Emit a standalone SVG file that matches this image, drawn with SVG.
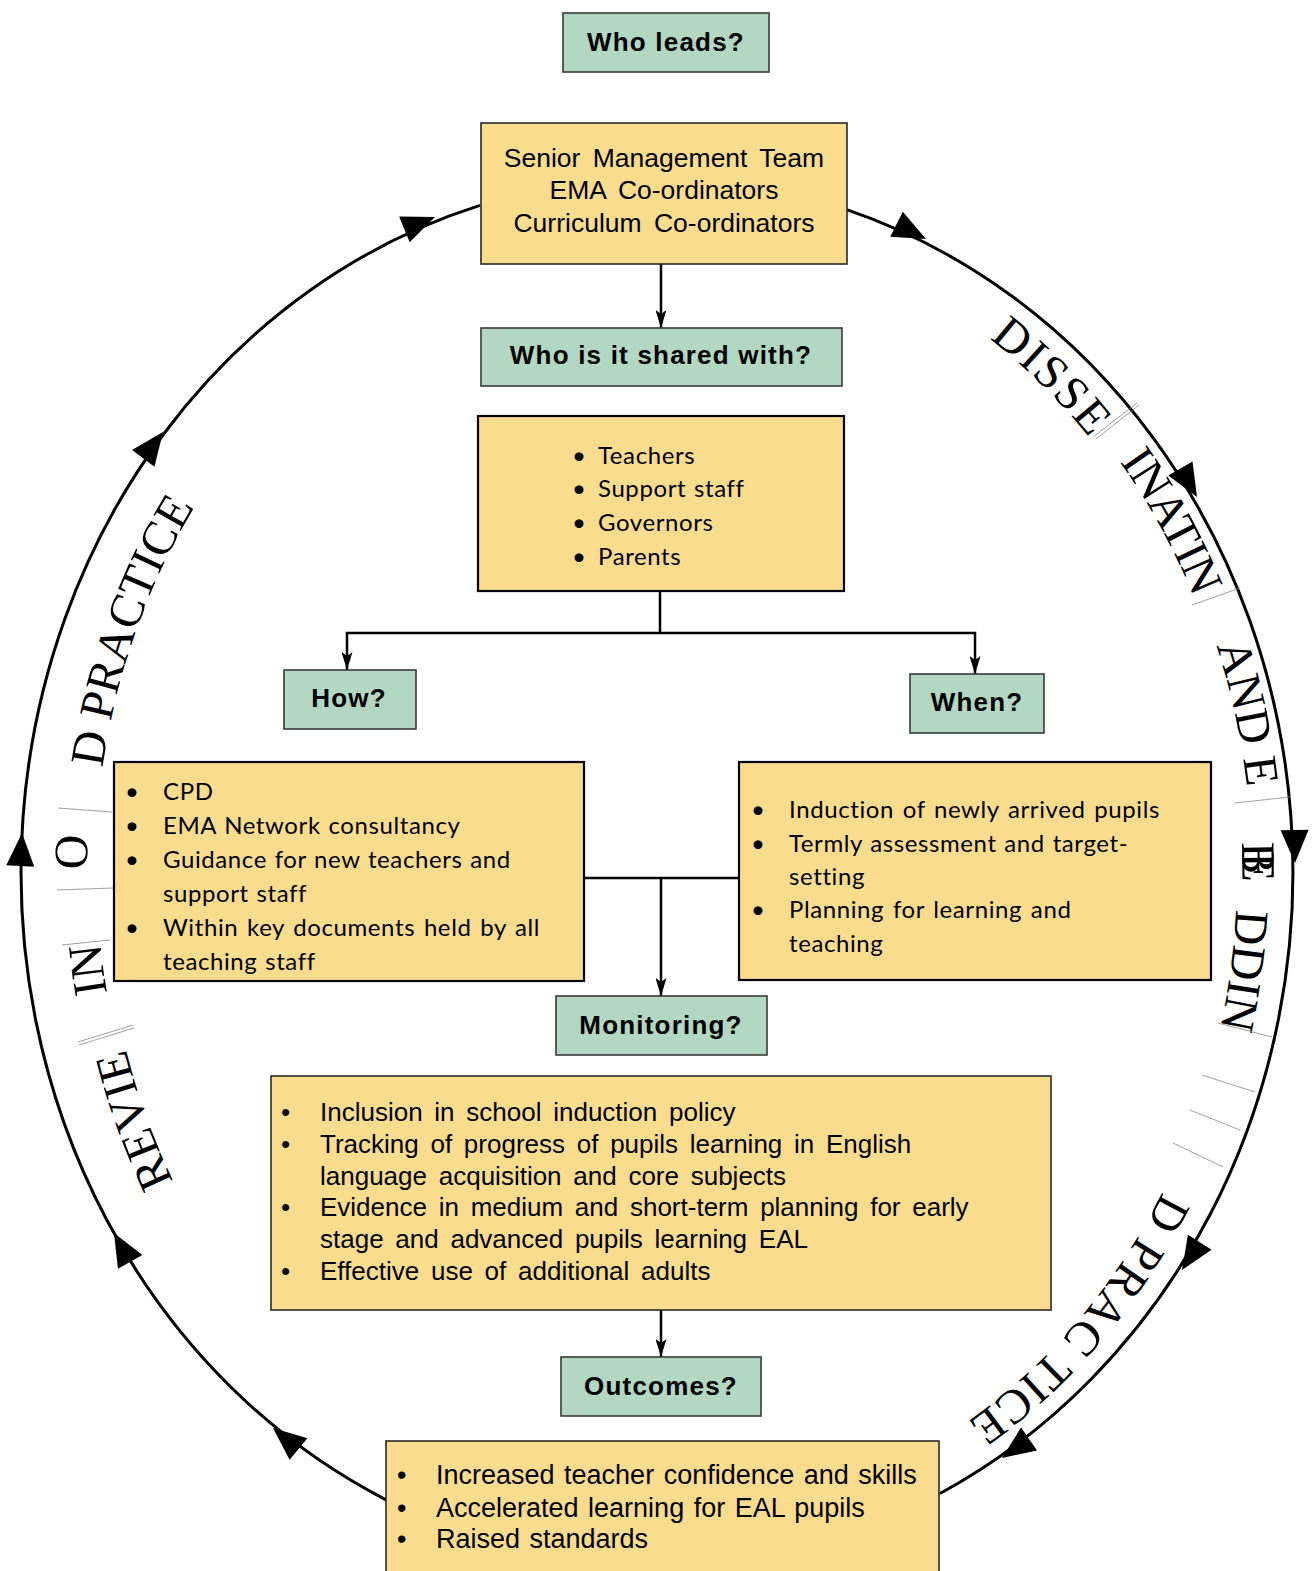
<svg xmlns="http://www.w3.org/2000/svg" width="1316" height="1571" viewBox="0 0 1316 1571">
<style>
.g{fill:#b2d7c3;stroke:#3a3a3a;stroke-width:1.6}
.y{fill:#f9dc8e;stroke:#2a2a2a;stroke-width:1.6}
.yb{fill:#f9dc8e;stroke:#000;stroke-width:2.2}
.lbl{font-family:"Liberation Sans",Arial,sans-serif;font-weight:bold;font-size:26px;letter-spacing:1.2px;text-anchor:middle;fill:#000}
.ar{font-family:"Liberation Sans",Arial,sans-serif;fill:#000}
.smt{font-size:26.5px;word-spacing:5px;text-anchor:middle}
.mon{font-size:26px;word-spacing:4.5px}
.out{font-size:27px;word-spacing:2px}
.cb{font-family:Lato,"Open Sans",sans-serif;font-size:24px;fill:#000;letter-spacing:0.6px;word-spacing:1px}
.ring{fill:none;stroke:#000;stroke-width:3}
.conn{fill:none;stroke:#000;stroke-width:2.5}
.ct{font-family:"Liberation Serif","Times New Roman",serif;font-size:48px;fill:#000}
.hair{stroke:#888;stroke-width:0.8}
</style>
<defs>
<path id="ah" d="M0,0 L-33,-14 L-33,14 Z" fill="#000"/>
<marker id="m" markerWidth="18" markerHeight="11" refX="18" refY="5.5" orient="auto" markerUnits="userSpaceOnUse" viewBox="0 0 18 11">
<path d="M0,0 L18,5.5 L0,11 L4,5.5 Z" fill="#000"/>
</marker>
<path id="p1" d="M989.3,338.5 A575,649 0 0 1 1183.1,597.7"/>
<path id="p2" d="M1119.8,461.8 A585,659 0 0 1 1244.8,814.6"/>
<path id="p3" d="M1216.4,645.6 A590,662 0 0 1 1243,987"/>
<path id="p4" d="M1241.9,842.4 A580,652 0 0 1 1207,1095"/>
<path id="p5" d="M1236.0,909.4 A575,649 0 0 1 1160.0,1196.5"/>
<path id="p6" d="M1162.5,1191.6 A575,649 0 0 1 810.8,1498.9"/>
<path id="q1" d="M173.5,1181.3 A558,640 0 0 1 106.1,816.2"/>
<path id="q2" d="M107,992.9 A565,645 0 0 1 131.1,651.4"/>
<path id="q3" d="M87.0,869.7 A575,649 0 0 1 121.7,650.0"/>
<path id="q4" d="M102.4,767.8 A567,645 0 0 1 378.5,313.4"/>
</defs>
<rect width="1316" height="1571" fill="#fff"/>

<g id="cycle">
<path class="ring" d="M846,209.4 A636,694 0 0 1 940,1493.5"/>
<path class="ring" d="M386,1499.8 A636,694 0 0 1 480,205.4"/>
<use href="#ah" transform="translate(926,239) rotate(26.7)"/>
<use href="#ah" transform="translate(1197,497) rotate(59.8)"/>
<use href="#ah" transform="translate(1295,863) rotate(89.3)"/>
<use href="#ah" transform="translate(1182,1270) rotate(122.5)"/>
<use href="#ah" transform="translate(1002,1458) rotate(145)"/>
<use href="#ah" transform="translate(273,1428) rotate(-140.6)"/>
<use href="#ah" transform="translate(114,1233) rotate(-119.3)"/>
<use href="#ah" transform="translate(22,833) rotate(-87)"/>
<use href="#ah" transform="translate(163,432) rotate(-53.2)"/>
<use href="#ah" transform="translate(435,217) rotate(-22)"/>
</g>

<g id="cycle-text">
<text class="ct" letter-spacing="2"><textPath href="#p1">DISSE</textPath></text>
<text class="ct" letter-spacing="-1"><textPath href="#p2">INATIN</textPath></text>
<text class="ct"><textPath href="#p3">AND E</textPath></text>
<text class="ct"><textPath href="#p4">B<tspan dx="-22">E</tspan></textPath></text>
<text class="ct"><textPath href="#p5">DDIN</textPath></text>
<text class="ct" letter-spacing="1.5"><textPath href="#p6">D PRAC TICE</textPath></text>
<text class="ct"><textPath href="#q1">REVIE</textPath></text>
<text class="ct"><textPath href="#q2">IN</textPath></text>
<text class="ct"><textPath href="#q3">O</textPath></text>
<text class="ct"><textPath href="#q4">D PRACTICE</textPath></text>
<g id="hairlines">
<line class="hair" x1="1093" y1="437" x2="1137" y2="403"/>
<line class="hair" x1="1096" y1="439" x2="1139" y2="405"/>
<line class="hair" x1="1192" y1="605" x2="1240" y2="588"/>
<line class="hair" x1="1235" y1="803" x2="1290" y2="797"/>
<line class="hair" x1="1218" y1="1023" x2="1272" y2="1037"/>
<line class="hair" x1="1202" y1="1075" x2="1255" y2="1092"/>
<line class="hair" x1="1190" y1="1110" x2="1240" y2="1130"/>
<line class="hair" x1="1173" y1="1143" x2="1223" y2="1167"/>
<line class="hair" x1="58" y1="808" x2="112" y2="812"/>
<line class="hair" x1="57" y1="890" x2="113" y2="888"/>
<line class="hair" x1="62" y1="945" x2="110" y2="940"/>
<line class="hair" x1="78" y1="1042" x2="133" y2="1025"/>
<line class="hair" x1="79" y1="1045" x2="134" y2="1028"/>
</g>
</g>

<g id="connectors">
<line class="conn" x1="661" y1="264" x2="661" y2="328" stroke-width="2" marker-end="url(#m)"/>
<polyline class="conn" points="660,591 660,633"/>
<polyline class="conn" points="660,633 347,633 347,670" marker-end="url(#m)"/>
<polyline class="conn" points="660,633 975,633 975,674" marker-end="url(#m)"/>
<line class="conn" x1="584" y1="878" x2="739" y2="878"/>
<line class="conn" x1="661" y1="878" x2="661" y2="996" marker-end="url(#m)"/>
<line class="conn" x1="661" y1="1310" x2="661" y2="1357" stroke-width="2" marker-end="url(#m)"/>
</g>

<g id="who-leads">
<rect class="g" x="563" y="13" width="206" height="59"/>
<text class="lbl" x="666" y="51">Who leads?</text>
</g>

<g id="leaders">
<rect class="y" x="481" y="123" width="366" height="141"/>
<g class="ar smt">
<text x="664" y="167">Senior Management Team</text>
<text x="664" y="199">EMA Co-ordinators</text>
<text x="664" y="232">Curriculum Co-ordinators</text>
</g>
</g>

<g id="shared">
<rect class="g" x="481" y="328" width="361" height="58"/>
<text class="lbl" x="661" y="364">Who is it shared with?</text>
</g>

<g id="audience">
<rect class="yb" x="478" y="416" width="366" height="175"/>
<g class="cb">
<text x="572" y="464">•</text><text x="598" y="464">Teachers</text>
<text x="572" y="497">•</text><text x="598" y="497">Support staff</text>
<text x="572" y="531">•</text><text x="598" y="531">Governors</text>
<text x="572" y="565">•</text><text x="598" y="565">Parents</text>
</g>
</g>

<g id="how">
<rect class="g" x="284" y="670" width="132" height="59"/>
<text class="lbl" x="349" y="707">How?</text>
</g>

<g id="when">
<rect class="g" x="910" y="674" width="134" height="59"/>
<text class="lbl" x="977" y="711">When?</text>
</g>

<g id="how-list">
<rect class="yb" x="114" y="762" width="470" height="219"/>
<g class="cb">
<text x="125" y="800">•</text><text x="163" y="800">CPD</text>
<text x="125" y="834">•</text><text x="163" y="834">EMA Network consultancy</text>
<text x="125" y="868">•</text><text x="163" y="868">Guidance for new teachers and</text>
<text x="163" y="902">support staff</text>
<text x="125" y="936">•</text><text x="163" y="936" word-spacing="2">Within key documents held by all</text>
<text x="163" y="970">teaching staff</text>
</g>
</g>

<g id="when-list">
<rect class="yb" x="739" y="762" width="472" height="218"/>
<g class="cb">
<text x="751" y="818">•</text><text x="789" y="818" word-spacing="2">Induction of newly arrived pupils</text>
<text x="751" y="852">•</text><text x="789" y="852">Termly assessment and target-</text>
<text x="789" y="885">setting</text>
<text x="751" y="918">•</text><text x="789" y="918" word-spacing="2">Planning for learning and</text>
<text x="789" y="952">teaching</text>
</g>
</g>

<g id="monitoring">
<rect class="g" x="556" y="996" width="211" height="59"/>
<text class="lbl" x="661" y="1034">Monitoring?</text>
</g>

<g id="monitoring-list">
<rect class="y" x="271" y="1076" width="780" height="234"/>
<g class="ar mon">
<text x="281" y="1121">•</text><text x="320" y="1121">Inclusion in school induction policy</text>
<text x="281" y="1153">•</text><text x="320" y="1153">Tracking of progress of pupils learning in English</text>
<text x="320" y="1185">language acquisition and core subjects</text>
<text x="281" y="1216">•</text><text x="320" y="1216">Evidence in medium and short-term planning for early</text>
<text x="320" y="1248">stage and advanced pupils learning EAL</text>
<text x="281" y="1280">•</text><text x="320" y="1280">Effective use of additional adults</text>
</g>
</g>

<g id="outcomes">
<rect class="g" x="561" y="1357" width="200" height="59"/>
<text class="lbl" x="661" y="1395">Outcomes?</text>
</g>

<g id="outcomes-list">
<rect class="y" x="386" y="1441" width="553" height="140"/>
<g class="ar out">
<text x="397" y="1484">•</text><text x="436" y="1484">Increased teacher confidence and skills</text>
<text x="397" y="1517">•</text><text x="436" y="1517">Accelerated learning for EAL pupils</text>
<text x="397" y="1548">•</text><text x="436" y="1548">Raised standards</text>
</g>
</g>
</svg>
